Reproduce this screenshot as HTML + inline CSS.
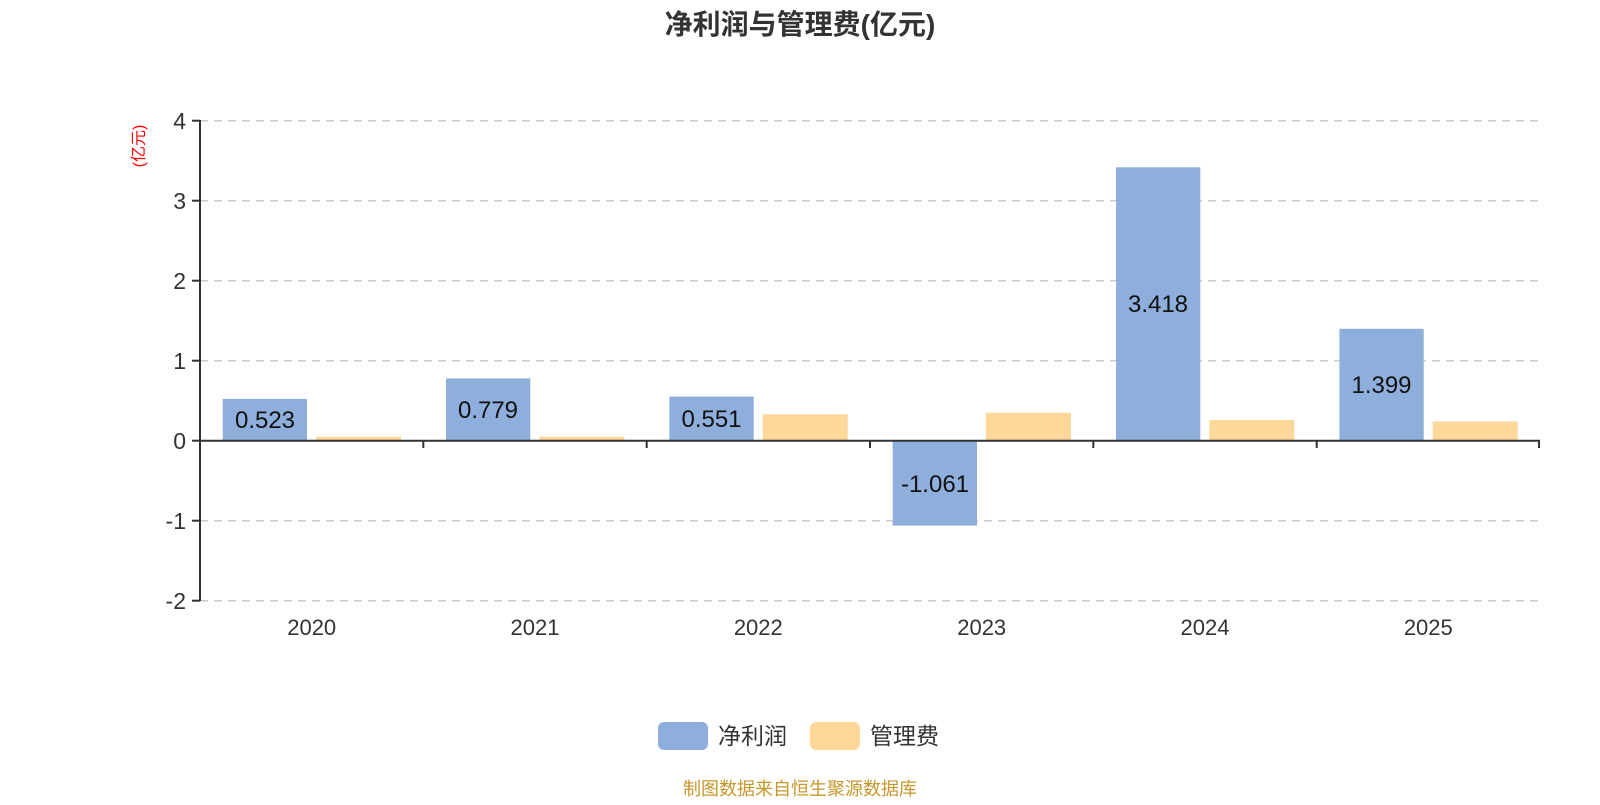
<!DOCTYPE html>
<html><head><meta charset="utf-8"><style>
body{margin:0;background:#fff}
svg text{font-family:"Liberation Sans","Noto Sans CJK SC",sans-serif}
</style></head><body>
<svg width="1600" height="800" viewBox="0 0 1600 800" xmlns="http://www.w3.org/2000/svg">
<text x="800" y="34" text-anchor="middle" font-size="28" font-weight="bold" fill="#333">净利润与管理费(亿元)</text>
<text transform="translate(144,146) rotate(-90)" text-anchor="middle" font-size="16" fill="#f00">(亿元)</text>
<g stroke="#ccc" stroke-width="1.5" stroke-dasharray="8,6">
<line x1="200" y1="120.7" x2="1540" y2="120.7"/>
<line x1="200" y1="200.7" x2="1540" y2="200.7"/>
<line x1="200" y1="280.7" x2="1540" y2="280.7"/>
<line x1="200" y1="360.7" x2="1540" y2="360.7"/>
<line x1="200" y1="520.7" x2="1540" y2="520.7"/>
<line x1="200" y1="600.7" x2="1540" y2="600.7"/>
</g>
<g fill="#8eaedb">
<rect x="222.7" y="398.9" width="84.3" height="41.8"/>
<rect x="446" y="378.4" width="84.3" height="62.3"/>
<rect x="669.4" y="396.6" width="84.3" height="44.1"/>
<rect x="892.7" y="440.7" width="84.3" height="84.9"/>
<rect x="1116" y="167.3" width="84.3" height="273.4"/>
<rect x="1339.4" y="328.8" width="84.3" height="111.9"/>
</g>
<g fill="#fed89a">
<rect x="316" y="436.7" width="85" height="4"/>
<rect x="539.3" y="436.7" width="85" height="4"/>
<rect x="762.7" y="414.3" width="85" height="26.4"/>
<rect x="986" y="412.7" width="85" height="28"/>
<rect x="1209.3" y="419.9" width="85" height="20.8"/>
<rect x="1432.7" y="421.5" width="85" height="19.2"/>
</g>
<g font-size="24" fill="#111" text-anchor="middle">
<text x="265" y="428">0.523</text>
<text x="488" y="418">0.779</text>
<text x="711.5" y="427">0.551</text>
<text x="935" y="492">-1.061</text>
<text x="1158" y="312">3.418</text>
<text x="1381.5" y="393">1.399</text>
</g>
<g stroke="#333" stroke-width="2">
<line x1="200" y1="120" x2="200" y2="601"/>
<line x1="199" y1="440.7" x2="1540" y2="440.7"/>
<line x1="192" y1="120.7" x2="200" y2="120.7"/>
<line x1="192" y1="200.7" x2="200" y2="200.7"/>
<line x1="192" y1="280.7" x2="200" y2="280.7"/>
<line x1="192" y1="360.7" x2="200" y2="360.7"/>
<line x1="192" y1="440.7" x2="200" y2="440.7"/>
<line x1="192" y1="520.7" x2="200" y2="520.7"/>
<line x1="192" y1="600.7" x2="200" y2="600.7"/>
<line x1="423.3" y1="440.7" x2="423.3" y2="448"/>
<line x1="646.7" y1="440.7" x2="646.7" y2="448"/>
<line x1="870" y1="440.7" x2="870" y2="448"/>
<line x1="1093.3" y1="440.7" x2="1093.3" y2="448"/>
<line x1="1316.7" y1="440.7" x2="1316.7" y2="448"/>
<line x1="1539" y1="440.7" x2="1539" y2="448"/>
</g>
<g font-size="23" fill="#333" text-anchor="end">
<text x="186" y="129">4</text>
<text x="186" y="209">3</text>
<text x="186" y="289">2</text>
<text x="186" y="369">1</text>
<text x="186" y="449">0</text>
<text x="186" y="529">-1</text>
<text x="186" y="609">-2</text>
</g>
<g font-size="22" fill="#333" text-anchor="middle">
<text x="311.7" y="635">2020</text>
<text x="535" y="635">2021</text>
<text x="758.3" y="635">2022</text>
<text x="981.7" y="635">2023</text>
<text x="1205" y="635">2024</text>
<text x="1428.3" y="635">2025</text>
</g>
<rect x="658" y="722" width="50" height="28" rx="6" fill="#8eaedb"/>
<text x="718" y="744" font-size="23" fill="#333">净利润</text>
<rect x="810" y="722" width="50" height="28" rx="6" fill="#fed89a"/>
<text x="870" y="744" font-size="23" fill="#333">管理费</text>
<text x="800" y="795" text-anchor="middle" font-size="18" fill="#c8962a">制图数据来自恒生聚源数据库</text>
</svg>
</body></html>
